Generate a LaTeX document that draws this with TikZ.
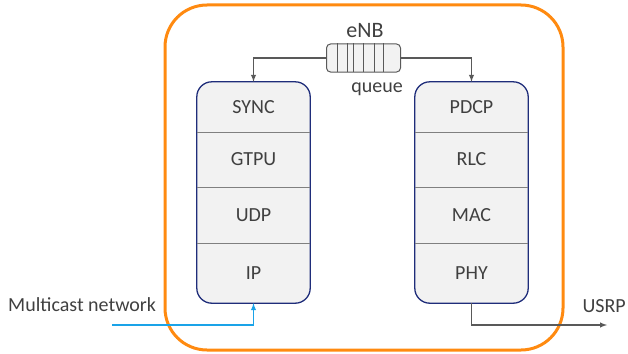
\documentclass[tikz,border=0pt]{standalone}
\usepackage{fontspec}
\setmainfont{Carlito}
\usetikzlibrary{arrows,positioning,backgrounds}

\definecolor{txtgray}{HTML}{404040}
\definecolor{enborange}{HTML}{FF8A10}
\definecolor{stacknavy}{HTML}{1F2D7A}
\definecolor{stackfill}{HTML}{F2F2F2}
\definecolor{sepgray}{HTML}{808080}
\definecolor{arrgray}{HTML}{595959}
\definecolor{mcastblue}{HTML}{1AA3E8}

\begin{document}
\begin{tikzpicture}
	[x=1pt,y=-1pt,every node/.style={text=txtgray,font=\fontsize{20}{24}\selectfont},
	layer/.style={minimum width=113pt,inner sep=0pt},
	stackframe/.style={draw=stacknavy,fill=stackfill,line width=1.3pt,rounded corners=15pt},
	sepline/.style={draw=sepgray,line width=0.9pt},
	arr/.style={draw=arrgray,line width=1.4pt,-latex},
	mcastarr/.style={draw=mcastblue,line width=1.4pt,-latex}]
	\useasboundingbox (0,0) rectangle (628,353);
	
	\node[draw=enborange,line width=3pt,rounded corners=42pt,minimum width=398pt,minimum height=345pt] (enb) at (364,177.5) {};
	\node[font=\fontsize{22}{26}\selectfont] (enblabel) at (365,31) {eNB};
	
	% left stack
	\node[layer,minimum height=50pt] (sync) at (253.5,107)   {SYNC};
	\node[layer,minimum height=55pt] (gtpu) at (253.5,159.5) {GTPU};
	\node[layer,minimum height=56pt] (udp)  at (253.5,215)   {UDP};
	\node[layer,minimum height=60pt] (ip)   at (253.5,273)   {IP};
	
	% right stack
	\node[layer,minimum height=50pt] (pdcp) at (471.5,107)   {PDCP};
	\node[layer,minimum height=55pt] (rlc)  at (471.5,159.5) {RLC};
	\node[layer,minimum height=56pt] (mac)  at (471.5,215)   {MAC};
	\node[layer,minimum height=60pt] (phy)  at (471.5,273)   {PHY};
	
	\begin{scope}[on background layer]
	\draw[stackframe] (sync.north west) rectangle (ip.south east);
	\draw[stackframe] (pdcp.north west) rectangle (phy.south east);
	\end{scope}
	
	\foreach \upper in {sync,gtpu,udp,pdcp,rlc,mac}
	\draw[sepline] (\upper.south west) -- (\upper.south east);
	
	% queue
	\node[draw=arrgray,fill=stackfill,line width=1pt,rounded corners=4pt,minimum width=74pt,minimum height=28pt] (queue) at (363.5,58) {};
	\foreach \dx in {11,21,27,37,48,57}
	\draw[arrgray,line width=0.8pt] (queue.north west) ++(\dx,0) -- ++(0,28);
	\node (queuelabel) at (377,89) {queue};
	
	\draw[arr] (queue.west) -| (sync.north);
	\draw[arr] (queue.east) -| (pdcp.north);
	
	% outside
	\node[anchor=west,inner sep=0pt] (mcast) at (8,305) {Multicast network};
	\coordinate (mstart) at (112,325);
	\draw[mcastarr] (mstart) -| (ip.south);
	
	\node[anchor=east,inner sep=0pt] (usrp) at (626,306) {USRP};
	\coordinate (uend) at (607,325);
	\draw[arr] (phy.south) |- (uend);
	
	\end{tikzpicture}
\end{document}
